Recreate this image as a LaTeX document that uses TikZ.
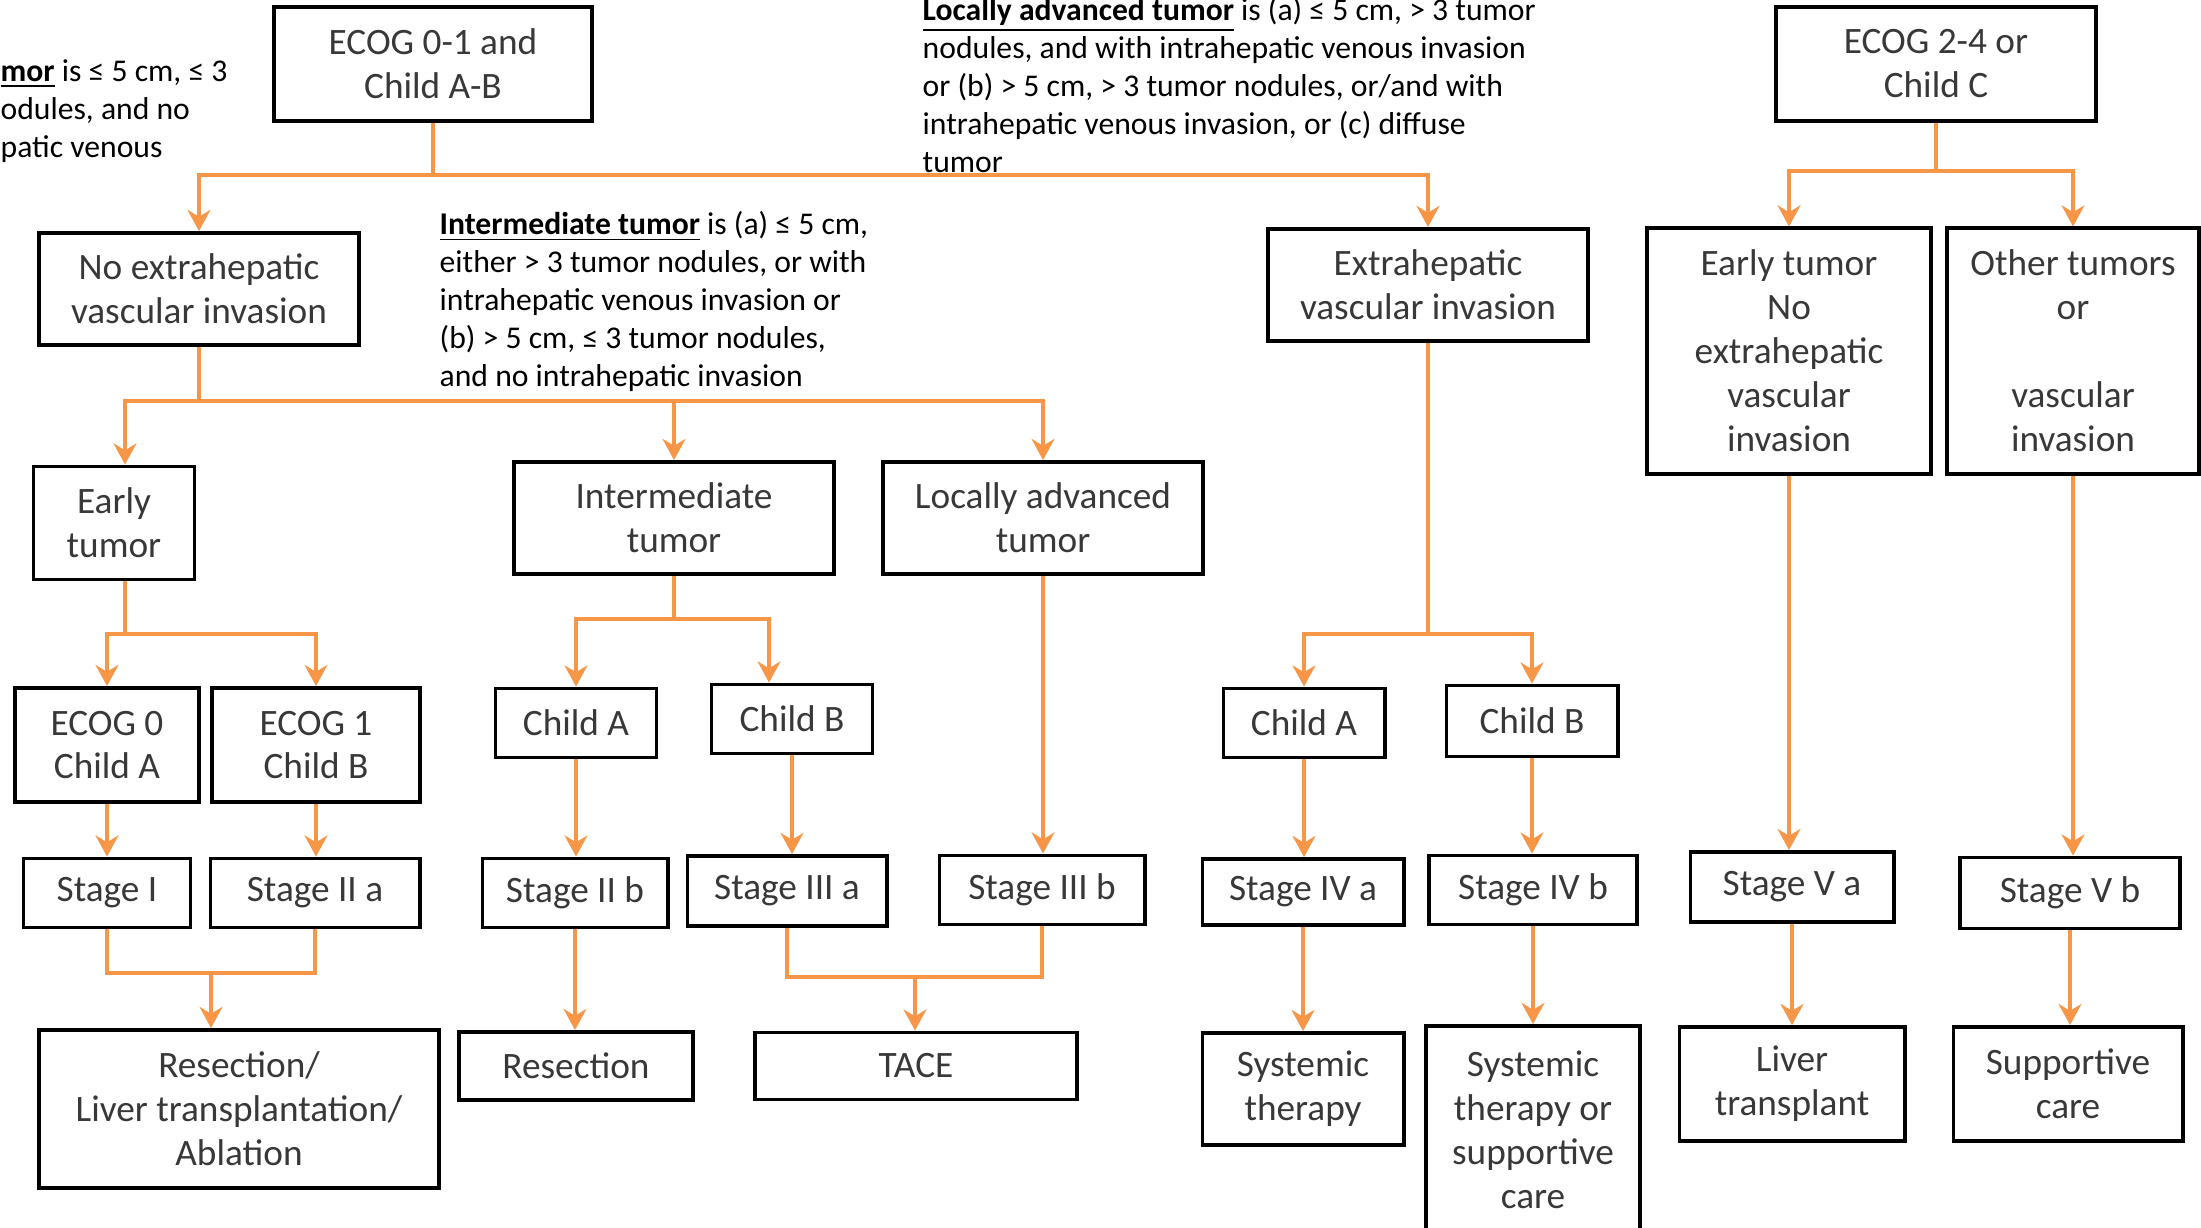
\documentclass[tikz,border=0pt]{standalone}
\usepackage{fontspec}
\setmainfont{Carlito}
\usepackage{tikz}
\usetikzlibrary{arrows.meta}
\definecolor{lineorange}{HTML}{F79646}

\begin{document}
\begin{tikzpicture}[x=0.01cm, y=-0.01cm,
  box/.style={draw, line width=1.1pt, text=black!78, align=center, inner sep=0pt, font=\fontsize{10.6}{12.5}\selectfont},
  note/.style={align=left, anchor=base west, inner sep=0pt, font=\fontsize{9}{10.8}\selectfont},
  line/.style={draw=lineorange, line width=1.1pt},
  arr/.style={line, -{Stealth[length=6pt, width=6.5pt]}}]
\clip (0,0) rectangle (2201,1227);
% notes (anchored at the baseline of their last line)
\node[note] (n1) at (0,157) {\underline{\textbf{mor}} is ≤ 5 cm, ≤ 3\\odules, and no\\patic venous};
\node[note] (n2) at (439,386) {\underline{\textbf{Intermediate tumor}} is (a) ≤ 5 cm,\\either > 3 tumor nodules, or with\\intrahepatic venous invasion or\\(b) > 5 cm, ≤ 3 tumor nodules,\\and no intrahepatic invasion};
\node[note] (n3) at (922,172) {\underline{\textbf{Locally advanced tumor}} is (a) ≤ 5 cm, > 3 tumor\\nodules, and with intrahepatic venous invasion\\or (b) > 5 cm, > 3 tumor nodules, or/and with\\intrahepatic venous invasion, or (c) diffuse\\tumor};
% boxes
\node[box, minimum width=3.18cm, minimum height=1.14cm] (1) at (433,64) {ECOG 0-1 and\\Child A-B};
\node[box, minimum width=3.20cm, minimum height=1.14cm] (2) at (1936,64) {ECOG 2-4 or\\Child C};
\node[box, minimum width=3.20cm, minimum height=1.12cm] (3) at (199,289) {No extrahepatic\\vascular invasion};
\node[box, minimum width=3.20cm, minimum height=1.12cm] (4) at (1428,285) {Extrahepatic\\vascular invasion};
\node[box, minimum width=2.84cm, minimum height=2.45cm] (5) at (1789,351) {Early tumor\\No\\extrahepatic\\vascular\\invasion};
\node[box, minimum width=2.52cm, minimum height=2.45cm] (6) at (2073,351) {Other tumors\\or\\\mbox{}\\vascular\\invasion};
\node[box, minimum width=1.61cm, minimum height=1.13cm] (7) at (114,523) {Early\\tumor};
\node[box, minimum width=3.20cm, minimum height=1.12cm] (8) at (674,518) {Intermediate\\tumor};
\node[box, minimum width=3.20cm, minimum height=1.12cm] (9) at (1043,518) {Locally advanced\\tumor};
\node[box, minimum width=1.84cm, minimum height=1.14cm] (10) at (107,745) {ECOG 0\\Child A};
\node[box, minimum width=2.08cm, minimum height=1.14cm] (11) at (316,745) {ECOG 1\\Child B};
\node[box, minimum width=1.61cm, minimum height=0.69cm] (12) at (576,723) {Child A};
\node[box, minimum width=1.61cm, minimum height=0.69cm] (13) at (792,719) {Child B};
\node[box, minimum width=1.61cm, minimum height=0.69cm] (14) at (1304,723) {Child A};
\node[box, minimum width=1.71cm, minimum height=0.71cm] (15) at (1532,721) {Child B};
\node[box, minimum width=1.67cm, minimum height=0.69cm] (16) at (107,893) {Stage I};
\node[box, minimum width=2.09cm, minimum height=0.69cm] (17) at (315,893) {Stage II a};
\node[box, minimum width=1.85cm, minimum height=0.69cm] (18) at (575,893) {Stage II b};
\node[box, minimum width=1.99cm, minimum height=0.70cm] (19) at (787,891) {Stage III a};
\node[box, minimum width=2.05cm, minimum height=0.69cm] (20) at (1042,890) {Stage III b};
\node[box, minimum width=2.01cm, minimum height=0.66cm] (21) at (1303,892) {Stage IV a};
\node[box, minimum width=2.08cm, minimum height=0.69cm] (22) at (1533,890) {Stage IV b};
\node[box, minimum width=2.03cm, minimum height=0.70cm] (23) at (1792,887) {Stage V a};
\node[box, minimum width=2.20cm, minimum height=0.71cm] (24) at (2070,893) {Stage V b};
\node[box, minimum width=4.00cm, minimum height=1.58cm] (25) at (239,1109) {Resection/\\Liver transplantation/\\Ablation};
\node[box, minimum width=2.34cm, minimum height=0.68cm] (26) at (576,1066) {Resection};
\node[box, minimum width=3.22cm, minimum height=0.67cm] (27) at (916,1066) {TACE};
\node[box, minimum width=2.01cm, minimum height=1.12cm] (28) at (1303,1089) {Systemic\\therapy};
\node[box, minimum width=2.14cm, minimum height=2.08cm] (29) at (1533,1130) {Systemic\\therapy or\\supportive\\care};
\node[box, minimum width=2.25cm, minimum height=1.14cm] (30) at (1792,1084) {Liver\\transplant};
\node[box, minimum width=2.29cm, minimum height=1.14cm] (31) at (2068,1084) {Supportive\\care};
% branch points
\coordinate (t1) at (433,175);
\coordinate (t2) at (1936,171);
\coordinate (t3) at (199,401);
\coordinate (t3a) at (125,401);
\coordinate (t4) at (125,634);
\coordinate (t5) at (674,619);
\coordinate (t5b) at (769,619);
\coordinate (t6) at (1428,634);
\coordinate (t7) at (211,973);
\coordinate (t8) at (915,977);
% connectors
\draw[line] (1.south) -- (t1);
\draw[arr] (t1) -| (3.north);
\draw[arr] (t1) -| (4.north);
\draw[line] (2.south) -- (t2);
\draw[arr] (t2) -| (5.north);
\draw[arr] (t2) -| (6.north);
\draw[line] (3.south) -- (t3);
\draw[arr] (t3) -- (t3a) -- (t3a |- 7.north);
\draw[arr] (t3) -| (8.north);
\draw[arr] (t3) -| (9.north);
\draw[line] (t4 |- 7.south) -- (t4);
\draw[arr] (t4) -| (10.north);
\draw[arr] (t4) -| (11.north);
\draw[line] (8.south) -- (t5);
\draw[arr] (t5) -| (12.north);
\draw[arr] (t5) -- (t5b) -- (t5b |- 13.north);
\draw[arr] (9.south) -- (9.south |- 20.north);
\draw[line] (4.south) -- (t6);
\draw[arr] (t6) -| (14.north);
\draw[arr] (t6) -| (15.north);
\draw[arr] (10.south) -- (10.south |- 16.north);
\draw[arr] (11.south) -- (11.south |- 17.north);
\draw[arr] (12.south) -- (12.south |- 18.north);
\draw[arr] (13.south) -- (13.south |- 19.north);
\draw[arr] (14.south) -- (14.south |- 21.north);
\draw[arr] (15.south) -- (15.south |- 22.north);
\draw[arr] (5.south) -- (5.south |- 23.north);
\draw[arr] (6.south) -- (6.south |- 24.north);
\draw[line] (16.south) |- (t7) -| (17.south);
\draw[arr] (t7) -- (t7 |- 25.north);
\draw[arr] (18.south) -- (18.south |- 26.north);
\draw[line] (19.south) |- (t8) -| (20.south);
\draw[arr] (t8) -- (t8 |- 27.north);
\draw[arr] (21.south) -- (21.south |- 28.north);
\draw[arr] (22.south) -- (22.south |- 29.north);
\draw[arr] (23.south) -- (23.south |- 30.north);
\draw[arr] (24.south) -- (24.south |- 31.north);
\end{tikzpicture}
\end{document}
